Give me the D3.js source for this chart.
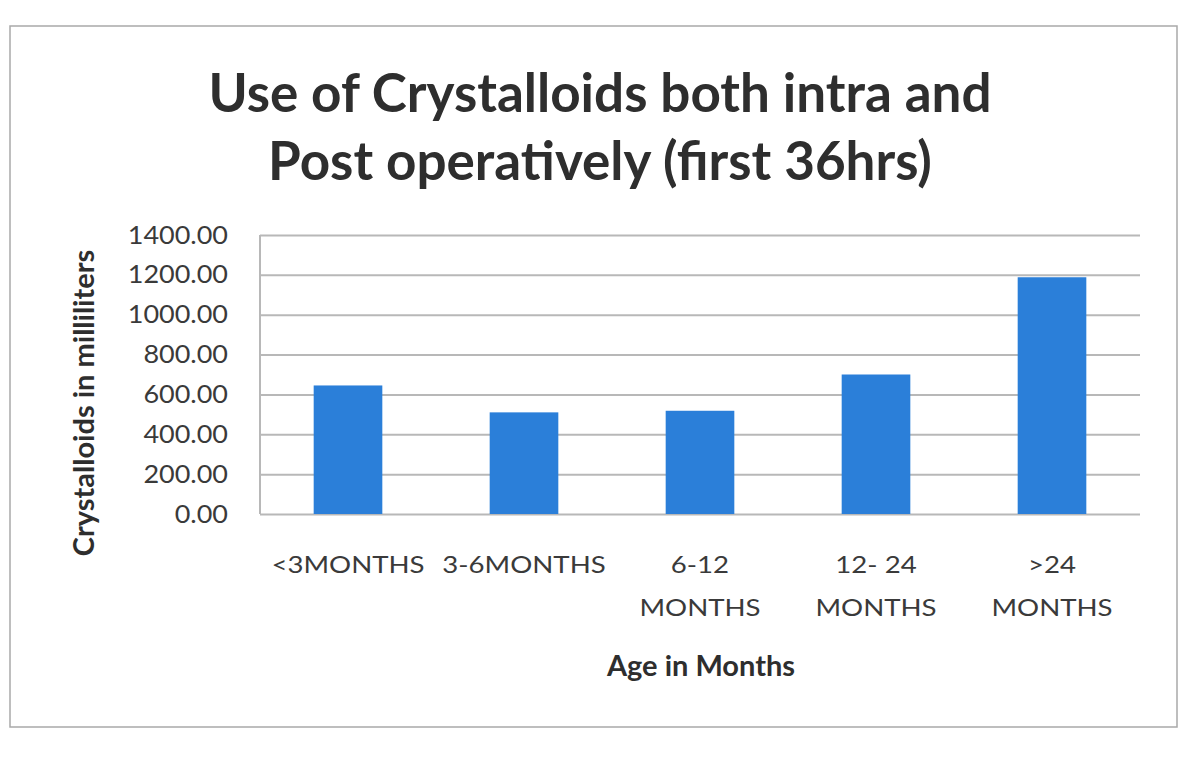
<!DOCTYPE html>
<html><head><meta charset="utf-8">
<script src="https://cdn.jsdelivr.net/npm/d3@7"></script>
<style>html,body{margin:0;padding:0;background:#fff;}</style>
</head><body>
<svg id="chart" width="1200" height="757"></svg>
<script>
const categories = [["<3MONTHS"], ["3-6MONTHS"], ["6-12", "MONTHS"], ["12- 24", "MONTHS"], [">24", "MONTHS"]];
const values = [645, 510, 518, 700, 1188];
const yTicks = [0, 200, 400, 600, 800, 1000, 1200, 1400];
const titleLines = ["Use of Crystalloids both intra and", "Post operatively (first 36hrs)"];
const yTitle = "Crystalloids in milliliters";
const xTitle = "Age in Months";

const svg = d3.select("#chart");
const font = "Lato, 'Open Sans', sans-serif";
svg.append("rect").attr("x", 10).attr("y", 26).attr("width", 1167).attr("height", 701)
  .attr("fill", "#fff").attr("stroke", "#a9a9a9").attr("stroke-width", 1.5);

const m = {left: 260, right: 1140, top: 235, bottom: 514};
const x = d3.scaleBand().domain(d3.range(categories.length)).range([m.left, m.right]).paddingInner(0.61).paddingOuter(0.305);
const y = d3.scaleLinear().domain([0, 1400]).range([m.bottom, m.top]);

// gridlines + y tick labels
const ySx = 1.08;
const yAxis = d3.axisLeft(y).tickValues(yTicks).tickSize(-(m.right - m.left)).tickFormat(d => d.toFixed(2));
const gy = svg.append("g").attr("transform", `translate(${m.left},0)`).call(yAxis);
gy.select(".domain").remove();
gy.selectAll(".tick line").attr("stroke", "#b8b8b8").attr("stroke-width", 2);
gy.selectAll(".tick text").attr("x", -32 / ySx).attr("transform", `scale(${ySx},1)`).attr("fill", "#3a3a3a")
  .style("font-family", font).style("font-size", "25px");
svg.append("line").attr("x1", m.left).attr("x2", m.left).attr("y1", m.top).attr("y2", m.bottom)
  .attr("stroke", "#b8b8b8").attr("stroke-width", 2);

// bars
svg.append("g").selectAll("rect").data(values).join("rect")
  .attr("x", (d, i) => x(i)).attr("width", x.bandwidth())
  .attr("y", d => y(d)).attr("height", d => y(0) - y(d))
  .attr("fill", "#2b7fd9");

// x labels
const xSx = 1.2;
const xAxis = d3.axisBottom(x).tickSize(0).tickFormat(() => "");
const gx = svg.append("g").attr("transform", `translate(0,${m.bottom})`).call(xAxis);
gx.select(".domain").remove();
gx.selectAll(".tick").each(function(d) {
  const t = d3.select(this).append("text").attr("fill", "#3a3a3a").attr("text-anchor", "middle")
    .attr("transform", `scale(${xSx},1)`)
    .style("font-family", font).style("font-size", "23px");
  categories[d].forEach((line, j) => {
    t.append("tspan").attr("x", 0).attr("y", 59 + j * 43).text(line);
  });
});

// titles
const tt = svg.append("text").attr("text-anchor", "middle").attr("fill", "#2e2e2e")
  .style("font-family", font).style("font-weight", "bold").style("font-size", "53px");
titleLines.forEach((l, i) => tt.append("tspan").attr("x", 600).attr("y", 112 + i * 68).text(l));

svg.append("text").attr("text-anchor", "middle").attr("fill", "#2e2e2e")
  .attr("transform", "translate(94,403) rotate(-90)")
  .style("font-family", font).style("font-weight", "bold").style("font-size", "29px").text(yTitle);

svg.append("text").attr("text-anchor", "middle").attr("fill", "#2e2e2e")
  .attr("x", 701).attr("y", 676)
  .style("font-family", font).style("font-weight", "bold").style("font-size", "29px").text(xTitle);
</script>
</body></html>
